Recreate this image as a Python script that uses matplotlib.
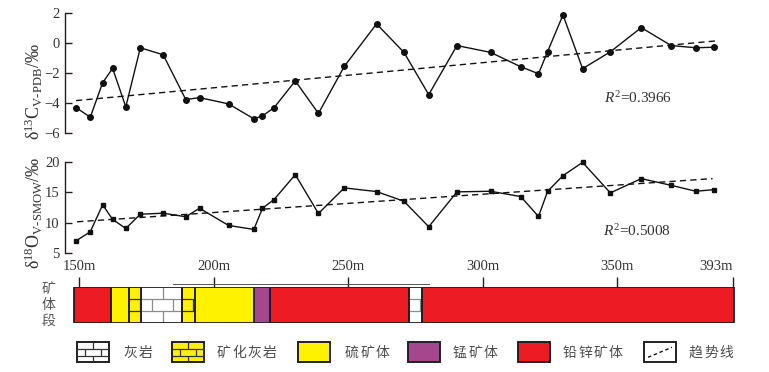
import matplotlib
matplotlib.use('Agg')
import matplotlib.pyplot as plt
from matplotlib.patches import Rectangle

plt.rcParams['font.family'] = ['Liberation Serif', 'Noto Sans CJK SC', 'DejaVu Sans']
plt.rcParams['mathtext.fontset'] = 'custom'
plt.rcParams['mathtext.rm'] = 'Liberation Serif'
plt.rcParams['mathtext.it'] = 'Liberation Serif:italic'

# sample depths (m), shared by both isotope series
depth = [149.0, 154.2, 158.8, 162.5, 167.4, 172.8, 181.3, 189.7, 194.8, 205.6,
         215.0, 218.2, 222.5, 230.4, 239.0, 248.6, 260.6, 270.8, 280.0, 290.5,
         303.0, 314.2, 320.8, 324.2, 329.9, 337.2, 347.5, 359.0, 370.1, 379.3, 386.2]
d13c = [-4.33, -4.96, -2.65, -1.69, -4.27, -0.31, -0.78, -3.78, -3.65, -4.07,
        -5.07, -4.87, -4.33, -2.53, -4.71, -1.56, 1.29, -0.62, -3.45, -0.16,
        -0.62, -1.58, -2.05, -0.56, 1.89, -1.71, -0.58, 1.04, -0.16, -0.31, -0.27]
d18o = [7.06, 8.53, 12.94, 10.54, 9.07, 11.40, 11.57, 10.98, 12.38, 9.56,
        8.91, 12.38, 13.80, 17.88, 11.52, 15.71, 15.11, 13.52, 9.35, 15.06,
        15.16, 14.29, 11.03, 15.16, 17.72, 19.89, 14.89, 17.23, 16.13, 15.16, 15.43]

# trend lines (end points)
trend_c_x, trend_c_y = [148.9, 387.9], [-3.85, 0.17]
trend_o_x, trend_o_y = [149.3, 385.5], [10.16, 17.23]
r2_c = '$R^2$=0.3966'
r2_o = '$R^2$=0.5008'

# ore body section strip
seg_start = [148.0, 161.8, 168.7, 173.1, 188.2, 193.0, 215.2, 221.1, 272.6, 277.5]
seg_end = [161.8, 168.7, 173.1, 188.2, 193.0, 215.2, 221.1, 272.6, 277.5, 393.5]
seg_type = ['铅锌矿体', '硫矿体', '矿化灰岩', '灰岩', '矿化灰岩', '硫矿体',
            '锰矿体', '铅锌矿体', '灰岩', '铅锌矿体']
x_ticks = [150, 200, 250, 300, 350, 393]
x_ticklabels = ['150m', '200m', '250m', '300m', '350m', '393m']

legend_names = ['灰岩', '矿化灰岩', '硫矿体', '锰矿体', '铅锌矿体', '趋势线']

colors = {'灰岩': 'white', '矿化灰岩': '#fff200', '硫矿体': '#fff200',
          '锰矿体': '#a4478d', '铅锌矿体': '#ed1c24', '趋势线': 'white'}
brick_line = {'灰岩': '#8c8c8c', '矿化灰岩': '#333333'}
EDGE = '#231f20'
TXT = '#333333'
CN = ['Noto Sans CJK SC', 'DejaVu Sans']

W, H = 769, 372
fig = plt.figure(figsize=(W / 100, H / 100), dpi=100)


def px_axes(l, t, r, b):
    return fig.add_axes([l / W, 1 - b / H, (r - l) / W, (b - t) / H])


XLIM = (144.8, 395.7)


def style_left(ax):
    for s in ['top', 'right', 'bottom']:
        ax.spines[s].set_visible(False)
    ax.spines['left'].set_color(EDGE)
    ax.spines['left'].set_linewidth(1.0)
    ax.tick_params(axis='y', direction='in', length=5, width=1, color=EDGE,
                   labelsize=10.5, labelcolor=TXT, pad=4)
    ax.set_xticks([])
    ax.set_xlim(*XLIM)
    ax.patch.set_alpha(0)


# δ13C panel
ax_c = px_axes(65, 13.3, 740, 132.7)
style_left(ax_c)
ax_c.plot(depth, d13c, '-o', color='#111111', lw=1.0, ms=4, clip_on=False)
ax_c.plot(trend_c_x, trend_c_y, color='#111111', lw=1.0, ls=(0, (4.5, 3)))
ax_c.set_ylim(-6, 2)
ax_c.set_yticks([-6, -4, -2, 0, 2])

# δ18O panel
ax_o = px_axes(65, 161.7, 740, 253.3)
style_left(ax_o)
ax_o.plot(depth, d18o, '-s', color='#111111', lw=1.0, ms=3.5, clip_on=False)
ax_o.plot(trend_o_x, trend_o_y, color='#111111', lw=1.0, ls=(0, (4.5, 3)))
ax_o.set_ylim(5, 20)
ax_o.set_yticks([5, 10, 15, 20])

# overlay axes in pixel units for free text and legend
ov = fig.add_axes([0, 0, 1, 1])
ov.set_xlim(0, W)
ov.set_ylim(H, 0)
ov.axis('off')
ov.patch.set_alpha(0)

ov.text(604, 97.7, r2_c, fontsize=11, color=TXT, va='center', ha='left')
ov.text(603, 230.7, r2_o, fontsize=11, color=TXT, va='center', ha='left')
ov.text(34, 92, 'δ$^{13}$C$_{\\mathrm{V‐PDB}}$/‰', rotation=90, fontsize=13,
        color=TXT, ha='center', va='center')
ov.text(34, 213, 'δ$^{18}$O$_{\\mathrm{V‐SMOW}}$/‰', rotation=90, fontsize=13,
        color=TXT, ha='center', va='center')
for ch, yy in zip('矿体段', [289, 305, 321]):
    ov.text(48, yy, ch, family=CN, fontsize=10, color='#555555',
            ha='center', va='center')


def bricks(ax, x0, x1, y0, y1, bw, color, lw, nrows=3):
    h = (y1 - y0) / nrows
    for r in range(1, nrows):
        ax.plot([x0, x1], [y0 + r * h] * 2, color=color, lw=lw, solid_capstyle='butt')
    for r in range(nrows):
        xv = x0 + (bw / 2 if r % 2 else bw)
        while xv < x1 - 1e-6:
            ax.plot([xv, xv], [y0 + r * h, y0 + (r + 1) * h], color=color, lw=lw,
                    solid_capstyle='butt')
            xv += bw


# ore body strip
ax_s = px_axes(65, 287, 740, 323)
ax_s.set_xlim(*XLIM)
ax_s.set_ylim(0, 1)
for s in ax_s.spines.values():
    s.set_visible(False)
ax_s.patch.set_alpha(0)
ax_s.xaxis.tick_top()
ax_s.set_xticks(x_ticks)
ax_s.set_xticklabels(x_ticklabels)
ax_s.tick_params(axis='x', direction='out', length=7, width=1, color=EDGE,
                 labelsize=10.5, labelcolor=TXT, pad=3)
ax_s.get_xticklabels()[-1].set_ha('right')
ax_s.get_xticklabels()[-1].set_x(394)
ax_s.set_yticks([])
for s0, s1, t in zip(seg_start, seg_end, seg_type):
    ax_s.add_patch(Rectangle((s0, 0), s1 - s0, 1, facecolor=colors[t],
                             edgecolor='none', zorder=1))
    if t in brick_line:
        bricks(ax_s, s0, s1, 0, 1, 8.0, brick_line[t], 0.9)
    ax_s.add_patch(Rectangle((s0, 0), s1 - s0, 1, facecolor='none',
                             edgecolor=EDGE, lw=1.3, zorder=3))
ax_s.plot([185, 280], [1.07, 1.07], color='#555555', lw=0.7, clip_on=False)

# legend
box_x = [77.3, 171.7, 298.3, 408.3, 518, 644]
text_x = [123, 216.7, 345, 453, 563, 689]
by0, by1 = 342.3, 362.3
for bx, tx, name in zip(box_x, text_x, legend_names):
    bw = 32
    ov.add_patch(Rectangle((bx, by0), bw, by1 - by0, facecolor=colors[name],
                           edgecolor='none'))
    if name in brick_line:
        bricks(ov, bx, bx + bw, by0, by1, 16, '#333333', 0.9)
    if name == '趋势线':
        ov.plot([bx + 4, bx + bw - 4], [by1 - 5, by0 + 5], color='#111111', lw=1,
                ls=(0, (2.5, 2)))
    ov.add_patch(Rectangle((bx, by0), bw, by1 - by0, facecolor='none',
                           edgecolor=EDGE, lw=1.4))
    for i, ch in enumerate(name):
        ov.text(tx + i * 15.3, (by0 + by1) / 2 + 0.5, ch, family=CN, fontsize=10,
                color='#4d4d4d', ha='left', va='center')

fig.savefig('out.png', dpi=100)
